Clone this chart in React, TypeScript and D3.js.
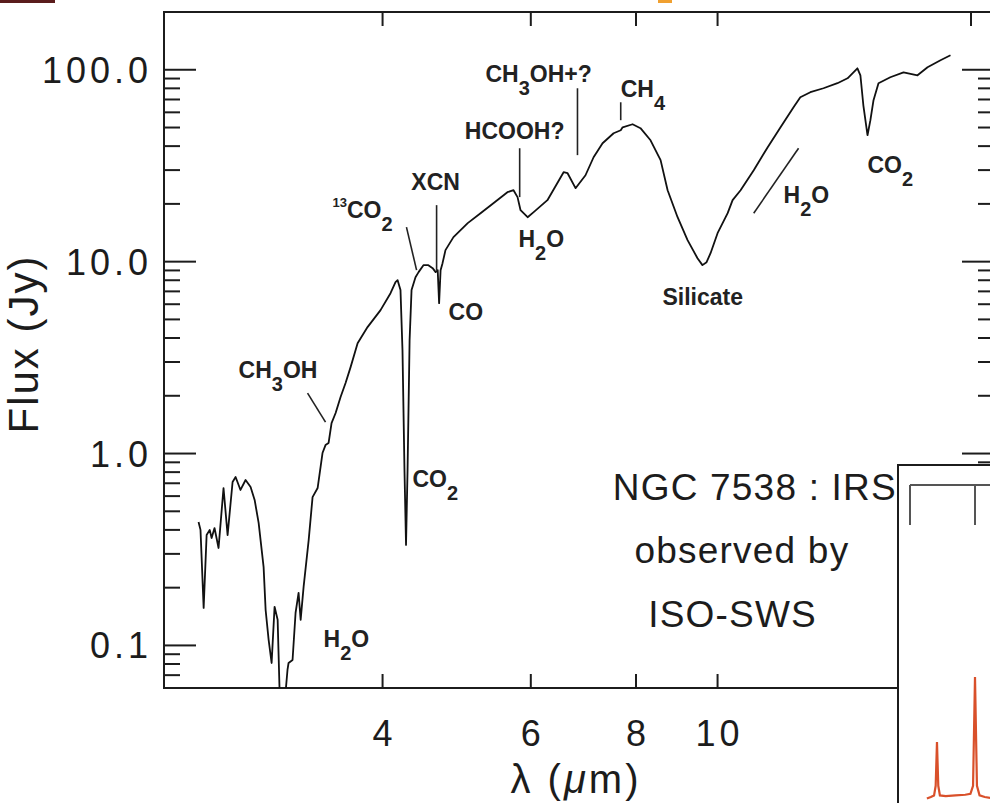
import React from "react";
import * as d3 from "d3";

// ISO-SWS spectrum of NGC 7538 : IRS9 (wavelength in micron, flux in Jy)
const wavelength = [
  2.418, 2.431, 2.452, 2.472, 2.493, 2.506, 2.526, 2.554, 2.589, 2.618,
  2.654, 2.676, 2.712, 2.75, 2.788, 2.819, 2.85, 2.889, 2.905, 2.929,
  2.953, 2.977, 3.002, 3.019, 3.06, 3.084, 3.093, 3.127, 3.153, 3.179,
  3.197, 3.223, 3.268, 3.303, 3.349, 3.394, 3.422, 3.451, 3.479, 3.518,
  3.566, 3.615, 3.665, 3.736, 3.839, 3.978, 4.088, 4.144, 4.168, 4.201,
  4.224, 4.247, 4.265, 4.283, 4.307, 4.33, 4.377, 4.414, 4.473, 4.534,
  4.587, 4.625, 4.651, 4.669, 4.688, 4.713, 4.751, 4.856, 5.049, 5.229,
  5.416, 5.628, 5.723, 5.786, 5.834, 5.948, 6.047, 6.279, 6.563, 6.635,
  6.781, 6.968, 7.124, 7.301, 7.525, 7.673, 7.713, 7.926, 8.099, 8.325,
  8.557, 8.723, 8.964, 9.212, 9.466, 9.595, 9.704, 9.81, 10.0, 10.28,
  10.42, 10.65, 11.04, 11.47, 11.88, 12.31, 12.54, 12.89, 13.36, 13.88,
  14.27, 14.66, 14.78, 14.9, 15.07, 15.19, 15.32, 15.53, 16.04, 16.63,
  17.28, 17.76, 18.4, 18.91,
];
const flux = [
  0.44, 0.4, 0.157, 0.376, 0.4, 0.363, 0.409, 0.322, 0.661, 0.376,
  0.711, 0.755, 0.646, 0.728, 0.67, 0.573, 0.435, 0.256, 0.153, 0.107,
  0.081, 0.159, 0.136, 0.055, 0.05, 0.0745, 0.081, 0.084, 0.148, 0.188,
  0.136, 0.202, 0.354, 0.593, 0.661, 1.006, 1.107, 1.135, 1.442, 1.626,
  1.97, 2.33, 2.82, 3.76, 4.56, 5.59, 6.85, 7.82, 8.01, 7.11,
  3.46, 0.82, 0.334, 0.82, 3.9, 7.11, 8.3, 8.82, 9.59, 9.59,
  9.25, 8.82, 9.03, 6.08, 9.03, 9.82, 11.48, 13.42, 15.87, 17.89,
  20.17, 23.01, 23.57, 21.68, 18.54, 17.05, 18.11, 20.91, 29.25, 28.9,
  24.15, 28.2, 35.0, 41.4, 46.7, 48.4, 50.1, 52.0, 49.6, 42.9,
  33.8, 23.57, 17.05, 12.94, 10.42, 9.59, 9.94, 11.07, 14.07, 17.89,
  20.91, 23.57, 29.97, 39.5, 50.2, 63.8, 71.9, 76.4, 80.1, 85.1,
  90.3, 101.8, 93.6, 65.3, 45.6, 54.6, 69.4, 85.1, 91.4, 97.0,
  93.6, 103.0, 112.1, 119.0,
];

const xDomain = [2.2, 21.3];
const yDomain = [0.06, 200];
const xTickValues = [4, 6, 8, 10, 20];
const xLabelValues = [4, 6, 8, 10];
const xLabelText = ["4", "6", "8", "10"];
const yMajorValues = [0.1, 1, 10, 100];
const yMajorLabels = ["0.1", "1.0", "10.0", "100.0"];

// Ice feature identifications: text pieces, anchor wavelength / flux
type Part = { t: string; k?: "sub" | "sup" };
type Feature = { parts: Part[]; lam: number; f: number; anchor: "start" | "middle" };
const featureLabels: Feature[] = [
  { parts: [{ t: "CH" }, { t: "3", k: "sub" }, { t: "OH" }], lam: 2.698, f: 2.473, anchor: "start" },
  { parts: [{ t: "13", k: "sup" }, { t: "CO" }, { t: "2", k: "sub" }], lam: 3.488, f: 16.85, anchor: "start" },
  { parts: [{ t: "XCN" }], lam: 4.625, f: 23.57, anchor: "middle" },
  { parts: [{ t: "CO" }], lam: 4.792, f: 4.96, anchor: "start" },
  { parts: [{ t: "CO" }, { t: "2", k: "sub" }], lam: 4.34, f: 0.669, anchor: "start" },
  { parts: [{ t: "HCOOH?" }], lam: 5.74, f: 43.5, anchor: "middle" },
  { parts: [{ t: "CH" }, { t: "3", k: "sub" }, { t: "OH+?" }], lam: 5.3, f: 86.1, anchor: "start" },
  { parts: [{ t: "CH" }, { t: "4", k: "sub" }], lam: 7.673, f: 71.9, anchor: "start" },
  { parts: [{ t: "H" }, { t: "2", k: "sub" }, { t: "O" }], lam: 5.8, f: 11.9, anchor: "start" },
  { parts: [{ t: "Silicate" }], lam: 8.6, f: 5.93, anchor: "start" },
  { parts: [{ t: "H" }, { t: "2", k: "sub" }, { t: "O" }], lam: 11.98, f: 20.17, anchor: "start" },
  { parts: [{ t: "CO" }, { t: "2", k: "sub" }], lam: 15.07, f: 28.9, anchor: "start" },
  { parts: [{ t: "H" }, { t: "2", k: "sub" }, { t: "O" }], lam: 3.404, f: 0.0982, anchor: "start" },
];

// Marker strokes: [lam1, f1, lam2, f2]
const featureMarkers = [
  [3.258, 2.065, 3.422, 1.459],
  [4.27, 15.13, 4.39, 9.03],
  [4.637, 19.7, 4.637, 9.03],
  [5.82, 39.0, 5.82, 21.7],
  [6.817, 80.1, 6.817, 35.9],
  [7.673, 67.7, 7.673, 54.6],
  [11.04, 17.89, 12.48, 39.0],
];

const noteText = ["NGC 7538 : IRS9", "observed by", "ISO-SWS"];
const noteLam = [7.508, 10.69, 10.42];
const noteFlux = [0.573, 0.269, 0.1248];
const noteAnchor = ["start", "middle", "middle"];

// Inset: emission line profile
const insetWave = [2.6, 3.2, 3.7, 3.95, 4.15, 4.35, 4.6, 5.5, 7.0, 8.5, 9.3, 9.7, 10.0, 10.3, 10.7, 11.5, 12.4];
const insetFlux = [0.02, 0.025, 0.03, 0.06, 0.197, 0.06, 0.03, 0.028, 0.03, 0.032, 0.035, 0.06, 0.4, 0.06, 0.03, 0.025, 0.022];
const insetTicks = [0, 10];

const W = 990;
const H = 803;
const plot = { left: 164, right: 994, top: 12, bottom: 688 };
const FONT = "'Liberation Sans', Arial, Helvetica, sans-serif";
const INK = "#1c1c1c";

export default function App() {
  const x = d3.scaleLog().domain(xDomain).range([plot.left, plot.right]);
  const y = d3.scaleLog().domain(yDomain).range([plot.bottom, plot.top]);

  const spectrum = d3
    .line<number>()
    .x((_, i) => x(wavelength[i]))
    .y((_, i) => y(flux[i]))(flux);

  const yMinor: number[] = [];
  for (let e = -2; e <= 2; e++) {
    for (let k = 2; k <= 9; k++) {
      const v = k * Math.pow(10, e);
      if (v > yDomain[0] && v < yDomain[1]) yMinor.push(v);
    }
  }

  const ix = d3.scaleLinear().domain([0, 10]).range([910, 975]);
  const iy = d3.scaleLinear().domain([0, 1]).range([805, 485]);
  const insetPath = d3
    .line<number>()
    .x((_, i) => ix(insetWave[i]))
    .y((_, i) => iy(insetFlux[i]))(insetFlux);

  const tickLS = 4;
  const major = 32;
  const minor = 16;
  const xTickLen = 14;

  const renderParts = (parts: Part[]) => {
    let shift = 0;
    return parts.map((p, i) => {
      const target = p.k === "sub" ? 13 : p.k === "sup" ? -11 : 0;
      const dy = target - shift;
      shift = target;
      const size = p.k === "sub" ? 20 : p.k === "sup" ? 13 : 23;
      return (
        <tspan key={i} dy={dy} fontSize={size}>
          {p.t}
        </tspan>
      );
    });
  };

  return (
    <svg
      width={W}
      height={H}
      style={{ position: "absolute", left: 0, top: 0, background: "#fff" }}
      fontFamily={FONT}
    >
      <rect x={0} y={0} width={W} height={H} fill="#fff" />
      {/* fragments of neighbouring page content */}
      <rect x={0} y={0} width={55} height={3} fill="#5a1c1c" />
      <rect x={658} y={0} width={14} height={3} fill="#f0a030" />

      <defs>
        <clipPath id="plotArea">
          <rect x={plot.left} y={plot.top} width={plot.right - plot.left} height={plot.bottom - plot.top} />
        </clipPath>
      </defs>

      {/* frame */}
      <rect
        x={plot.left}
        y={plot.top}
        width={plot.right - plot.left}
        height={plot.bottom - plot.top}
        fill="none"
        stroke={INK}
        strokeWidth={2}
      />

      {/* y ticks, left and right */}
      {yMajorValues.map((v) => (
        <g key={"ym" + v} stroke={INK} strokeWidth={2}>
          <line x1={plot.left} x2={plot.left + major} y1={y(v)} y2={y(v)} />
          <line x1={plot.right} x2={plot.right - major} y1={y(v)} y2={y(v)} />
        </g>
      ))}
      {yMinor.map((v) => (
        <g key={"yn" + v} stroke={INK} strokeWidth={2}>
          <line x1={plot.left} x2={plot.left + minor} y1={y(v)} y2={y(v)} />
          <line x1={plot.right} x2={plot.right - minor} y1={y(v)} y2={y(v)} />
        </g>
      ))}
      {yMajorValues.map((v, i) => (
        <text
          key={"yl" + v}
          x={148 + tickLS}
          y={y(v) + 13}
          textAnchor="end"
          fontSize={36}
          letterSpacing={tickLS}
          fill={INK}
        >
          {yMajorLabels[i]}
        </text>
      ))}

      {/* x ticks, top and bottom */}
      {xTickValues.map((v) => (
        <g key={"xt" + v} stroke={INK} strokeWidth={2}>
          <line x1={x(v)} x2={x(v)} y1={plot.top} y2={plot.top + xTickLen} />
          <line x1={x(v)} x2={x(v)} y1={plot.bottom} y2={plot.bottom - xTickLen} />
        </g>
      ))}
      {xLabelValues.map((v, i) => (
        <text
          key={"xl" + v}
          x={x(v) + tickLS / 2}
          y={746}
          textAnchor="middle"
          fontSize={36}
          letterSpacing={tickLS}
          fill={INK}
        >
          {xLabelText[i]}
        </text>
      ))}

      {/* axis titles */}
      <text x={576} y={793} textAnchor="middle" fontSize={40} fill={INK} letterSpacing={3}>
        λ (<tspan fontStyle="italic">μ</tspan>m)
      </text>
      <text
        transform="translate(38,344) rotate(-90)"
        textAnchor="middle"
        fontSize={42}
        fill={INK}
        letterSpacing={2}
      >
        Flux (Jy)
      </text>

      {/* spectrum */}
      <path d={spectrum || ""} fill="none" stroke="#111" strokeWidth={1.8} strokeLinejoin="round" clipPath="url(#plotArea)" />

      {/* feature markers */}
      {featureMarkers.map((m, i) => (
        <line key={"fm" + i} x1={x(m[0])} y1={y(m[1])} x2={x(m[2])} y2={y(m[3])} stroke="#222" strokeWidth={1.6} />
      ))}
      {featureLabels.map((f, i) => (
        <text key={"fl" + i} x={x(f.lam)} y={y(f.f)} textAnchor={f.anchor} fontSize={23} fontWeight="bold" fill="#222">
          {renderParts(f.parts)}
        </text>
      ))}

      {/* source note */}
      {noteText.map((t, i) => (
        <text
          key={"nt" + i}
          x={x(noteLam[i])}
          y={y(noteFlux[i])}
          textAnchor={noteAnchor[i] as any}
          fontSize={37}
          letterSpacing={1.2}
          fill={INK}
        >
          {t}
        </text>
      ))}

      {/* inset panel */}
      <g>
        <rect x={898} y={465} width={120} height={360} fill="#fff" stroke={INK} strokeWidth={2} />
        <line x1={ix(0)} x2={W + 10} y1={485} y2={485} stroke="#555" strokeWidth={2} />
        {insetTicks.map((t) => (
          <line key={"it" + t} x1={ix(t)} x2={ix(t)} y1={485} y2={525} stroke="#555" strokeWidth={2} />
        ))}
        <path d={insetPath || ""} fill="none" stroke="#d9502a" strokeWidth={2.2} />
      </g>
    </svg>
  );
}
